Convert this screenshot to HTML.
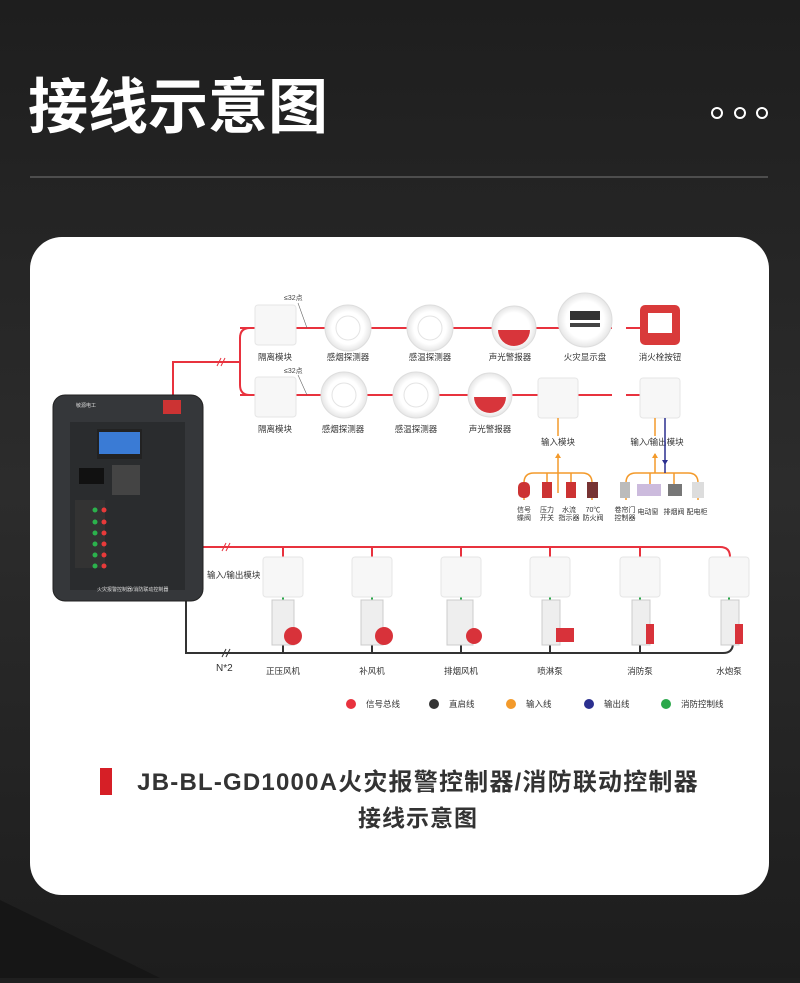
<!DOCTYPE html>
<html><head><meta charset="utf-8"><style>
body{margin:0;width:800px;height:978px;overflow:hidden;background:#1f1f1f;font-family:"Liberation Sans","Noto Sans CJK SC",sans-serif}
svg text{font-family:"Liberation Sans","Noto Sans CJK SC",sans-serif}
</style></head><body>
<svg width="800" height="978" viewBox="0 0 800 978" xmlns="http://www.w3.org/2000/svg">
<defs>
<linearGradient id="bg" x1="0" y1="0" x2="0" y2="1"><stop offset="0" stop-color="#1e1e1e"/><stop offset="0.5" stop-color="#2c2c2c"/><stop offset="1" stop-color="#1d1d1d"/></linearGradient>
<radialGradient id="det" cx="0.5" cy="0.5" r="0.5"><stop offset="0.7" stop-color="#fff"/><stop offset="1" stop-color="#e6e6e6"/></radialGradient>
</defs>
<rect width="800" height="978" fill="url(#bg)"/>
<polygon points="0,900 160,978 0,978" fill="#161616"/>
<text x="28" y="128" font-size="60" fill="#fff" font-weight="bold">接线示意图</text>
<g fill="none" stroke="#fff" stroke-width="2"><circle cx="717" cy="113" r="5"/><circle cx="740" cy="113" r="5"/><circle cx="762" cy="113" r="5"/></g>
<line x1="30" y1="177" x2="768" y2="177" stroke="#777" stroke-width="1"/>
<rect x="30" y="237" width="739" height="658" rx="32" fill="#fff"/>

<g fill="none" stroke="#e8323e" stroke-width="2">
<path d="M173 395 V362 H240"/>
<path d="M250 328 Q240 328 240 338 V385 Q240 395 250 395"/>
<path d="M240 328 H612 M626 328 H640"/>
<path d="M240 395 H612 M626 395 H640"/>
<path d="M203 547 H720 Q730 547 730 557"/>
<path d="M283 547 V557 M372 547 V557 M461 547 V557 M550 547 V557 M640 547 V557"/>
</g>
<g stroke="#e8323e" stroke-width="1"><path d="M217 366 L221 358 M221 366 L225 358 M222 551 L226 543 M226 551 L230 543"/></g>
<g stroke="#333" stroke-width="2" fill="none"><path d="M186 601 V653 H723 Q733 653 733 643"/>
<path d="M283 645 V653 M372 645 V653 M461 645 V653 M550 645 V653 M640 645 V653"/></g>
<path d="M222 657 L226 649 M226 657 L230 649" stroke="#333"/>
<g stroke="#2aa84a" stroke-width="2"><path d="M283 597V605M372 597V605M461 597V605M550 597V605M640 597V605M729 597V605"/></g>
<g font-size="7" fill="#444"><text x="284" y="300">≤32点</text><text x="284" y="373">≤32点</text></g>
<path d="M298 303 L307 328 M298 375 L307 395" stroke="#666" stroke-width="0.6"/>

<g fill="#f7f7f7" stroke="#e6e6e6">
<rect x="255" y="305" width="41" height="40" rx="3"/><rect x="255" y="377" width="41" height="40" rx="3"/>
<rect x="538" y="378" width="40" height="40" rx="3"/><rect x="640" y="378" width="40" height="40" rx="3"/>
<rect x="263" y="557" width="40" height="40" rx="3"/><rect x="352" y="557" width="40" height="40" rx="3"/>
<rect x="441" y="557" width="40" height="40" rx="3"/><rect x="530" y="557" width="40" height="40" rx="3"/>
<rect x="620" y="557" width="40" height="40" rx="3"/><rect x="709" y="557" width="40" height="40" rx="3"/>
</g>
<g fill="url(#det)" stroke="#ddd">
<circle cx="348" cy="328" r="23"/><circle cx="430" cy="328" r="23"/><circle cx="514" cy="328" r="22"/><circle cx="585" cy="320" r="27"/>
<circle cx="344" cy="395" r="23"/><circle cx="416" cy="395" r="23"/><circle cx="490" cy="395" r="22"/>
</g>
<g fill="none" stroke="#e4e4e4"><circle cx="348" cy="328" r="12"/><circle cx="430" cy="328" r="12"/><circle cx="344" cy="395" r="12"/><circle cx="416" cy="395" r="12"/></g>
<path d="M498 330 A16 16 0 0 0 530 330 Z" fill="#d8353b"/><path d="M474 397 A16 16 0 0 0 506 397 Z" fill="#d8353b"/>
<rect x="570" y="311" width="30" height="9" fill="#333"/><rect x="570" y="323" width="30" height="4" fill="#444"/>
<rect x="640" y="305" width="40" height="40" rx="5" fill="#d93a3a"/><rect x="648" y="313" width="24" height="20" fill="#fff"/>

<g font-size="8.5" fill="#333" text-anchor="middle">
<text x="275" y="360">隔离模块</text><text x="348" y="360">感烟探测器</text><text x="430" y="360">感温探测器</text><text x="510" y="360">声光警报器</text><text x="585" y="360">火灾显示盘</text><text x="660" y="360">消火栓按钮</text>
<text x="275" y="432">隔离模块</text><text x="343" y="432">感烟探测器</text><text x="416" y="432">感温探测器</text><text x="490" y="432">声光警报器</text>
<text x="558" y="445">输入模块</text><text x="657" y="445">输入/输出模块</text>
<text x="283" y="674">正压风机</text><text x="372" y="674">补风机</text><text x="461" y="674">排烟风机</text><text x="550" y="674">喷淋泵</text><text x="640" y="674">消防泵</text><text x="729" y="674">水炮泵</text>
</g>
<text x="207" y="578" font-size="8.5" fill="#333">输入/输出模块</text>
<text x="216" y="671" font-size="10" fill="#333">N*2</text>

<g stroke="#f39a2b" stroke-width="1.5" fill="none">
<path d="M558 418 V436 M558 454 V493 M524 500 V483 Q524 473 534 473 H582 Q592 473 592 483 V500 M547 473 V493 M571 473 V493"/>
<path d="M655 418 V436 M655 454 V473 M626 500 V483 Q626 473 636 473 H688 Q698 473 698 483 V500 M650 473 V493 M674 473 V493"/>
</g>
<path d="M665 418 V473" stroke="#2b2f8f" stroke-width="1.5"/>
<path d="M555 458 L558 453 L561 458 Z M652 458 L655 453 L658 458 Z" fill="#f39a2b"/><path d="M662 460 L665 465 L668 460 Z" fill="#2b2f8f"/>
<g fill="#c33"><rect x="518" y="482" width="12" height="16" rx="5"/><rect x="542" y="482" width="10" height="16"/><rect x="566" y="482" width="10" height="16"/><rect x="587" y="482" width="11" height="16" fill="#733"/></g>
<g fill="#bbb"><rect x="620" y="482" width="10" height="16"/><rect x="637" y="484" width="24" height="12" fill="#cbd"/><rect x="668" y="484" width="14" height="12" fill="#777"/><rect x="692" y="482" width="12" height="16" fill="#ddd"/></g>
<g font-size="7" fill="#333" text-anchor="middle">
<text x="524" y="512">信号</text><text x="524" y="520">蝶阀</text><text x="547" y="512">压力</text><text x="547" y="520">开关</text><text x="569" y="512">水流</text><text x="569" y="520">指示器</text><text x="593" y="512">70℃</text><text x="593" y="520">防火阀</text>
<text x="625" y="512">卷帘门</text><text x="625" y="520">控制器</text><text x="648" y="514">电动窗</text><text x="674" y="514">排烟阀</text><text x="697" y="514">配电柜</text>
</g>

<g fill="#eee" stroke="#ccc"><rect x="272" y="600" width="22" height="45"/><rect x="361" y="600" width="22" height="45"/><rect x="447" y="600" width="26" height="45"/><rect x="542" y="600" width="18" height="45"/><rect x="632" y="600" width="18" height="45"/><rect x="721" y="600" width="18" height="45"/></g>
<g fill="#d8323a"><circle cx="293" cy="636" r="9"/><circle cx="384" cy="636" r="9"/><circle cx="474" cy="636" r="8"/><rect x="556" y="628" width="18" height="14"/><rect x="646" y="624" width="8" height="20"/><rect x="735" y="624" width="8" height="20"/></g>

<rect x="53" y="395" width="150" height="206" rx="12" fill="#35373a" stroke="#222"/>
<rect x="70" y="422" width="115" height="168" fill="#2a2c2e"/>
<rect x="97" y="429" width="45" height="30" fill="#222"/>
<rect x="99" y="432" width="41" height="22" fill="#3a7bd5"/>
<rect x="79" y="468" width="25" height="16" fill="#111"/>
<rect x="112" y="465" width="28" height="30" fill="#444"/>
<rect x="75" y="500" width="30" height="68" fill="#333"/>
<g fill="#2bb24c"><circle cx="95" cy="510" r="2.5"/><circle cx="95" cy="522" r="2.5"/><circle cx="95" cy="533" r="2.5"/><circle cx="95" cy="544" r="2.5"/><circle cx="95" cy="555" r="2.5"/><circle cx="95" cy="566" r="2.5"/></g>
<g fill="#e83a3a"><circle cx="104" cy="510" r="2.5"/><circle cx="104" cy="522" r="2.5"/><circle cx="104" cy="533" r="2.5"/><circle cx="104" cy="544" r="2.5"/><circle cx="104" cy="555" r="2.5"/><circle cx="104" cy="566" r="2.5"/></g>
<rect x="163" y="400" width="18" height="14" fill="#c33"/>
<text x="76" y="407" font-size="5" fill="#ddd">敏源电工</text>
<text x="97" y="591" font-size="5" fill="#ddd">火灾报警控制器/消防联动控制器</text>

<circle cx="351" cy="704" r="5" fill="#e8323e"/><circle cx="434" cy="704" r="5" fill="#333"/><circle cx="511" cy="704" r="5" fill="#f39a2b"/><circle cx="589" cy="704" r="5" fill="#2b2f8f"/><circle cx="666" cy="704" r="5" fill="#2aa84a"/>
<g font-size="8.5" fill="#333"><text x="366" y="707">信号总线</text><text x="449" y="707">直启线</text><text x="526" y="707">输入线</text><text x="604" y="707">输出线</text><text x="681" y="707">消防控制线</text></g>

<rect x="100" y="768" width="12" height="27" fill="#d61f26"/>
<text x="418" y="790" font-size="24" font-weight="bold" fill="#333" text-anchor="middle" letter-spacing="1.2">JB-BL-GD1000A火灾报警控制器/消防联动控制器</text>
<text x="418" y="826" font-size="23" font-weight="bold" fill="#333" text-anchor="middle" letter-spacing="1">接线示意图</text>
</svg>
</body></html>
